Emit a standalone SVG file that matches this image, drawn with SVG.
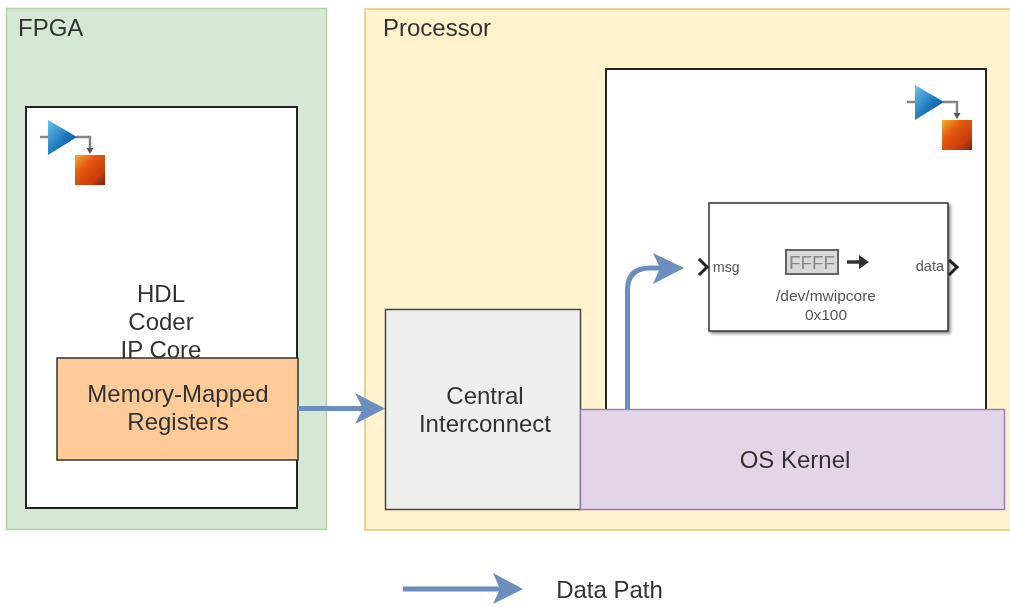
<svg xmlns="http://www.w3.org/2000/svg" width="1010" height="607" viewBox="0 0 1010 607">
<style>
text{font-family:"Liberation Sans",Arial,sans-serif;fill:#333;text-anchor:middle}
.lbl{font-size:24px}
.t{font-size:24px;text-anchor:start}
.sm{font-size:15.500px;fill:#555}
.wire{fill:none;stroke:#6c8ebf;stroke-width:5}
.head{fill:#6c8ebf}
.frame{fill:#fff;stroke:#222;stroke-width:2}
.ic{fill:none;stroke:#858585;stroke-width:2.500}
</style>
<defs>
<linearGradient id="tri" x1="0" y1="0" x2="1" y2="1"><stop offset="0" stop-color="#6cc4ee"/><stop offset="0.55" stop-color="#1b76bb"/><stop offset="1" stop-color="#0d4a8a"/></linearGradient>
<linearGradient id="sq" x1="0" y1="0" x2="1" y2="1"><stop offset="0" stop-color="#eeb030"/><stop offset="0.35" stop-color="#e65a12"/><stop offset="0.75" stop-color="#c83c08"/><stop offset="1" stop-color="#7a2010"/></linearGradient>
<filter id="sh" x="-5%" y="-5%" width="112%" height="112%"><feDropShadow dx="2" dy="2" stdDeviation="1.500" flood-color="#000" flood-opacity="0.45"/></filter>
<filter id="soft" filterUnits="userSpaceOnUse" x="0" y="0" width="1010" height="607"><feGaussianBlur stdDeviation="0.600"/></filter>
<g id="icon">
<path class="ic" d="M0 15H8M36 15H50V29"/>
<path d="M46.500 26h7l-3.500 6z" fill="#555"/>
<path d="M8 -2L37 15L8 33z" fill="url(#tri)"/>
<rect x="35" y="33" width="30" height="30" fill="url(#sq)"/>
</g>
</defs>
<rect width="1010" height="607" fill="#fff"/>
<g filter="url(#soft)">
<g id="fpga">
<rect x="6.500" y="8.500" width="320" height="521" fill="#d5e8d4" stroke="#b3d2a5" stroke-width="1.500"/>
<text class="t" x="18" y="36">FPGA</text>
</g>
<g id="processor">
<rect x="365" y="9" width="650" height="521" fill="#fff2cc" stroke="#e3c774" stroke-width="1.500"/>
<text class="t" x="383" y="36">Processor</text>
</g>
<g id="hdl-core">
<rect class="frame" x="26" y="107" width="271" height="401"/>
<use href="#icon" x="40" y="122"/>
<text class="lbl" x="161" y="302">HDL</text>
<text class="lbl" x="161" y="330">Coder</text>
<text class="lbl" x="161" y="358">IP Core</text>
</g>
<g id="registers">
<rect x="57" y="358" width="241" height="102" fill="#ffcc99" stroke="#333" stroke-width="1.500"/>
<text class="lbl" x="178" y="402">Memory-Mapped</text>
<text class="lbl" x="178" y="430">Registers</text>
</g>
<g id="software">
<rect class="frame" x="606" y="69" width="380" height="345"/>
<use href="#icon" x="907" y="87"/>
</g>
<g id="interconnect">
<rect x="385.500" y="309.500" width="195" height="200" fill="#eeeeee" stroke="#444" stroke-width="1.500"/>
<text class="lbl" x="485" y="404">Central</text>
<text class="lbl" x="485" y="432">Interconnect</text>
</g>
<g id="os-kernel">
<rect x="580.500" y="409.500" width="424" height="100" fill="#e1d5e7" stroke="#9c7fb0" stroke-width="1.500"/>
<text class="lbl" x="795" y="468">OS Kernel</text>
</g>
<g id="device-block">
<rect x="709" y="203" width="239" height="128" fill="#fff" stroke="#333" stroke-width="1.500" filter="url(#sh)"/>
<path d="M699 259L707 267L699 275" fill="none" stroke="#222" stroke-width="3"/>
<path d="M949 260L957 267L949 275" fill="none" stroke="#222" stroke-width="3"/>
<text class="sm" x="713" y="272" style="text-anchor:start;font-size:14px">msg</text>
<text class="sm" x="944" y="271" style="text-anchor:end;font-size:14.500px">data</text>
<rect x="786" y="250" width="52" height="24" fill="#d8d8d8" stroke="#666" stroke-width="2"/>
<text x="812" y="269" style="font-size:18px;fill:#888" textLength="46" lengthAdjust="spacingAndGlyphs">FFFF</text>
<path d="M847 262H862" stroke="#333" stroke-width="3.500" fill="none"/>
<path d="M859 255L869 262L859 269z" fill="#333"/>
<text class="sm" x="826" y="301">/dev/mwipcore</text>
<text class="sm" x="826" y="320">0x100</text>
</g>
<g id="connectors">
<path class="wire" d="M298 408.500H368"/>
<path class="head" d="M355 393L385 408.500L355 424L363 408.500z"/>
<path class="wire" d="M627.500 409V290Q627.500 268 650 268H665"/>
<path class="head" d="M653 253L684 268L653 284L660 268z"/>
<path class="wire" d="M403 589H505"/>
<path class="head" d="M493 573L523 589L493 604L500 589z"/>
</g>
<g id="legend">
<text class="lbl" x="609.500" y="598">Data Path</text>
</g>
</g>
</svg>
